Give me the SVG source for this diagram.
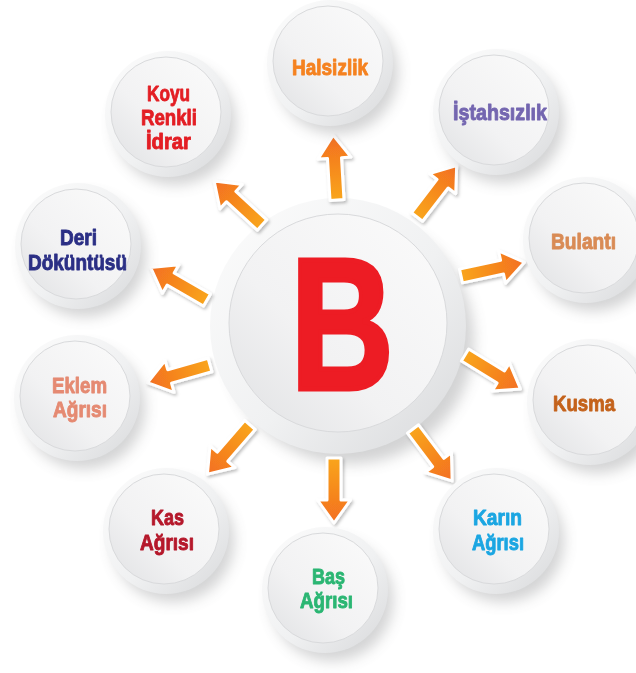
<svg xmlns="http://www.w3.org/2000/svg" xmlns:xlink="http://www.w3.org/1999/xlink" width="636" height="673" viewBox="0 0 636 673">
<defs>
<style>
.lbl{font-family:"Liberation Sans",Arial,sans-serif;font-weight:bold;font-size:22px;text-anchor:middle;stroke-width:0.9;stroke-linejoin:round}
.ring{fill:url(#ringG)}
.face{fill:url(#faceG);stroke:#d9dadc;stroke-width:1}
.shadow{fill:#6d6e71;opacity:0.3;filter:url(#blur)}
.arr{fill:url(#arrG);stroke:#ffffff;stroke-width:3;stroke-linejoin:round}
</style>
<filter id="blur" x="-30%" y="-30%" width="160%" height="160%"><feGaussianBlur stdDeviation="7"/></filter>
<filter id="ashadow" x="-30%" y="-30%" width="160%" height="160%"><feDropShadow dx="1.5" dy="2" stdDeviation="1.5" flood-color="#000" flood-opacity="0.25"/></filter>
<linearGradient id="ringG" x1="0" y1="0" x2="1" y2="1"><stop offset="0" stop-color="#fcfcfc"/><stop offset="0.55" stop-color="#f0f1f2"/><stop offset="1" stop-color="#d8d9db"/></linearGradient>
<linearGradient id="faceG" x1="1" y1="0" x2="0" y2="1"><stop offset="0" stop-color="#fbfbfb"/><stop offset="0.6" stop-color="#f2f2f3"/><stop offset="1" stop-color="#e0e1e3"/></linearGradient>
<linearGradient id="arrG" x1="0" y1="0" x2="1" y2="0"><stop offset="0" stop-color="#f9a51b"/><stop offset="1" stop-color="#f36f21"/></linearGradient>
<g id="bubble">
<circle class="shadow" cx="7" cy="10" r="61"/>
<circle class="ring" cx="0" cy="0" r="63"/>
<circle class="face" cx="-2" cy="-2" r="55"/>
</g>
<path id="arrow" d="M0,-7 L42,-7 L42,-16.5 L65,0 L42,16.5 L42,7 L0,7 Z"/>
</defs>
<rect width="636" height="673" fill="#ffffff"/>

<g id="center">
<circle class="shadow" cx="350" cy="340" r="124"/>
<circle class="ring" cx="338" cy="326" r="128"/>
<circle class="face" cx="338" cy="323" r="109"/>
<text transform="translate(342,389) scale(0.76,1)" x="0" y="0" style="font-family:'Liberation Sans',Arial,sans-serif;font-weight:bold;font-size:188px;text-anchor:middle;fill:#ed1c24;stroke:#ed1c24;stroke-width:5;stroke-linejoin:miter">B</text>
</g>

<g id="connectors" filter="url(#ashadow)">
<use href="#arrow" class="arr" transform="translate(337,200) rotate(-93.4)"/>
<use href="#arrow" class="arr" transform="translate(417,217) rotate(-52.4)"/>
<use href="#arrow" class="arr" transform="translate(461,276) rotate(-12.2)"/>
<use href="#arrow" class="arr" transform="translate(465,355) rotate(31.5)"/>
<use href="#arrow" class="arr" transform="translate(413,429) rotate(53)"/>
<use href="#arrow" class="arr" transform="translate(334,458) rotate(90)"/>
<use href="#arrow" class="arr" transform="translate(250,425) rotate(130.9)"/>
<use href="#arrow" class="arr" transform="translate(210,365) rotate(164.2)"/>
<use href="#arrow" class="arr" transform="translate(207,300) rotate(-150)"/>
<use href="#arrow" class="arr" transform="translate(262,225) rotate(-137.4)"/>
</g>

<g id="halsizlik">
<use href="#bubble" x="330" y="63"/>
<text class="lbl" x="330" y="75" fill="#f58220" stroke="#f58220" textLength="76" lengthAdjust="spacingAndGlyphs">Halsizlik</text>
</g>
<g id="istahsizlik">
<use href="#bubble" x="496" y="112"/>
<text class="lbl" x="500" y="120" fill="#7466b0" stroke="#7466b0" textLength="94" lengthAdjust="spacingAndGlyphs">İştahsızlık</text>
</g>
<g id="bulanti">
<use href="#bubble" x="586" y="240"/>
<text class="lbl" x="583.5" y="249" fill="#d98b55" stroke="#d98b55" textLength="65" lengthAdjust="spacingAndGlyphs">Bulantı</text>
</g>
<g id="kusma">
<use href="#bubble" x="590" y="402"/>
<text class="lbl" x="584" y="411" fill="#c4621b" stroke="#c4621b" textLength="62" lengthAdjust="spacingAndGlyphs">Kusma</text>
</g>
<g id="karin">
<use href="#bubble" x="496" y="531"/>
<text class="lbl" x="497.5" y="525" fill="#1ba6e2" stroke="#1ba6e2" textLength="49" lengthAdjust="spacingAndGlyphs">Karın</text>
<text class="lbl" x="498" y="550" fill="#1ba6e2" stroke="#1ba6e2" textLength="52" lengthAdjust="spacingAndGlyphs">Ağrısı</text>
</g>
<g id="bas">
<use href="#bubble" x="325" y="590"/>
<text class="lbl" x="328.5" y="584" fill="#2bb673" stroke="#2bb673" textLength="33" lengthAdjust="spacingAndGlyphs">Baş</text>
<text class="lbl" x="326.5" y="608" fill="#2bb673" stroke="#2bb673" textLength="53" lengthAdjust="spacingAndGlyphs">Ağrısı</text>
</g>
<g id="kas">
<use href="#bubble" x="166" y="531"/>
<text class="lbl" x="167.5" y="525" fill="#b5182b" stroke="#b5182b" textLength="33" lengthAdjust="spacingAndGlyphs">Kas</text>
<text class="lbl" x="167" y="550" fill="#b5182b" stroke="#b5182b" textLength="54" lengthAdjust="spacingAndGlyphs">Ağrısı</text>
</g>
<g id="eklem">
<use href="#bubble" x="77" y="398"/>
<text class="lbl" x="79.5" y="393" fill="#e58a72" stroke="#e58a72" textLength="55" lengthAdjust="spacingAndGlyphs">Eklem</text>
<text class="lbl" x="80" y="417" fill="#e58a72" stroke="#e58a72" textLength="54" lengthAdjust="spacingAndGlyphs">Ağrısı</text>
</g>
<g id="deri">
<use href="#bubble" x="78" y="246"/>
<text class="lbl" x="78.5" y="245" fill="#2b2f85" stroke="#2b2f85" textLength="37" lengthAdjust="spacingAndGlyphs">Deri</text>
<text class="lbl" x="77.5" y="270" fill="#2b2f85" stroke="#2b2f85" textLength="99" lengthAdjust="spacingAndGlyphs">Döküntüsü</text>
</g>
<g id="koyu">
<use href="#bubble" x="168" y="114"/>
<text class="lbl" x="168.5" y="101" fill="#e31e24" stroke="#e31e24" textLength="43" lengthAdjust="spacingAndGlyphs">Koyu</text>
<text class="lbl" x="169" y="125" fill="#e31e24" stroke="#e31e24" textLength="56" lengthAdjust="spacingAndGlyphs">Renkli</text>
<text class="lbl" x="168.5" y="149" fill="#e31e24" stroke="#e31e24" textLength="45" lengthAdjust="spacingAndGlyphs">İdrar</text>
</g>
</svg>
